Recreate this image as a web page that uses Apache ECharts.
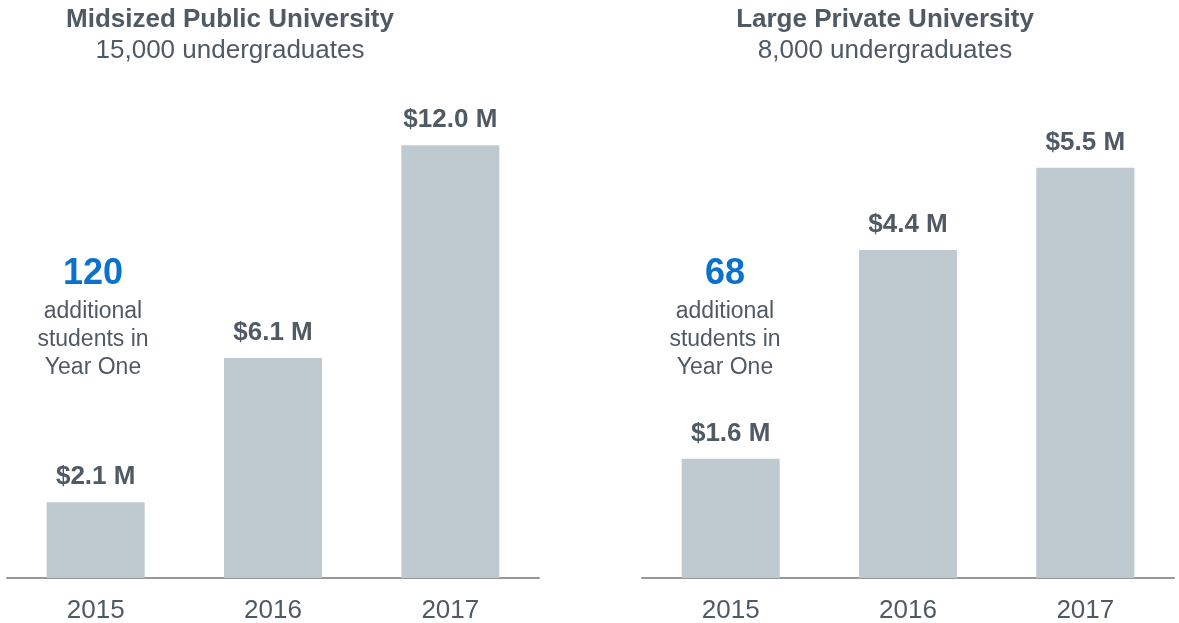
<!DOCTYPE html>
<html>
<head>
<meta charset="utf-8">
<script src="https://cdn.jsdelivr.net/npm/echarts@6/dist/echarts.min.js"></script>
<style>
  html, body { margin: 0; padding: 0; background: #fff; }
  #chart { width: 1179px; height: 623px; }
</style>
</head>
<body>
<div id="chart"></div>
<script>
const years = ['2015', '2016', '2017'];
const publicValues = [2.1, 6.1, 12.0];
const privateValues = [1.6, 4.4, 5.5];
const schoolNames = ['Midsized Public University', 'Large Private University'];
const schoolSizes = ['15,000 undergraduates', '8,000 undergraduates'];
const extraStudents = ['120', '68'];
const extraNote = ['additional', 'students in', 'Year One'];

const font = '"Liberation Sans", Arial, sans-serif';
const textColor = '#4f5a65';
const barColor = '#bfc9d0';
const blue = '#0a72cd';

const chart = echarts.init(document.getElementById('chart'));

const makeTitle = (i, x) => ({
  text: schoolNames[i],
  subtext: schoolSizes[i],
  left: x,
  top: 6,
  padding: 0,
  itemGap: 3,
  textAlign: 'center',
  textStyle: { fontFamily: font, fontSize: 26, fontWeight: 'bold', color: textColor, lineHeight: 28 },
  subtextStyle: { fontFamily: font, fontSize: 26, color: textColor, lineHeight: 28 }
});

const makeAxis = gridIndex => ({
  type: 'category',
  gridIndex,
  data: years,
  axisLine: { lineStyle: { color: '#989898', width: 2 } },
  axisTick: { show: false },
  axisLabel: { color: textColor, fontFamily: font, fontSize: 26, margin: 20 }
});

const makeValueAxis = (gridIndex, max) => ({
  type: 'value',
  gridIndex,
  min: 0,
  max,
  show: false,
  splitLine: { show: false }
});

const makeSeries = (idx, data) => ({
  type: 'bar',
  xAxisIndex: idx,
  yAxisIndex: idx,
  data,
  barWidth: 98,
  itemStyle: { color: barColor },
  silent: true,
  label: {
    show: true,
    position: 'top',
    distance: 12,
    formatter: p => `$${p.value.toFixed(1)} M`,
    fontFamily: font,
    fontSize: 26,
    fontWeight: 'bold',
    color: textColor
  }
});

const makeNote = (i, x) => ({
  type: 'group',
  children: [
    {
      type: 'text',
      x,
      y: 274,
      style: {
        text: extraStudents[i],
        font: `bold 36px ${font}`,
        fill: blue,
        textAlign: 'center',
        textVerticalAlign: 'middle'
      }
    },
    ...extraNote.map((line, k) => ({
      type: 'text',
      x,
      y: 312 + k * 28,
      style: {
        text: line,
        font: `23px ${font}`,
        fill: textColor,
        textAlign: 'center',
        textVerticalAlign: 'middle'
      }
    }))
  ]
});

chart.setOption({
  animation: false,
  backgroundColor: '#fff',
  title: [makeTitle(0, 230), makeTitle(1, 885)],
  grid: [
    { left: 7, width: 532, top: 73, bottom: 45, outerBoundsMode: 'none', containLabel: false },
    { left: 642, width: 532, top: 56, bottom: 45, outerBoundsMode: 'none', containLabel: false }
  ],
  xAxis: [makeAxis(0), makeAxis(1)],
  yAxis: [makeValueAxis(0, 14), makeValueAxis(1, 7)],
  series: [makeSeries(0, publicValues), makeSeries(1, privateValues)],
  graphic: [makeNote(0, 93), makeNote(1, 725)]
});
</script>
</body>
</html>
